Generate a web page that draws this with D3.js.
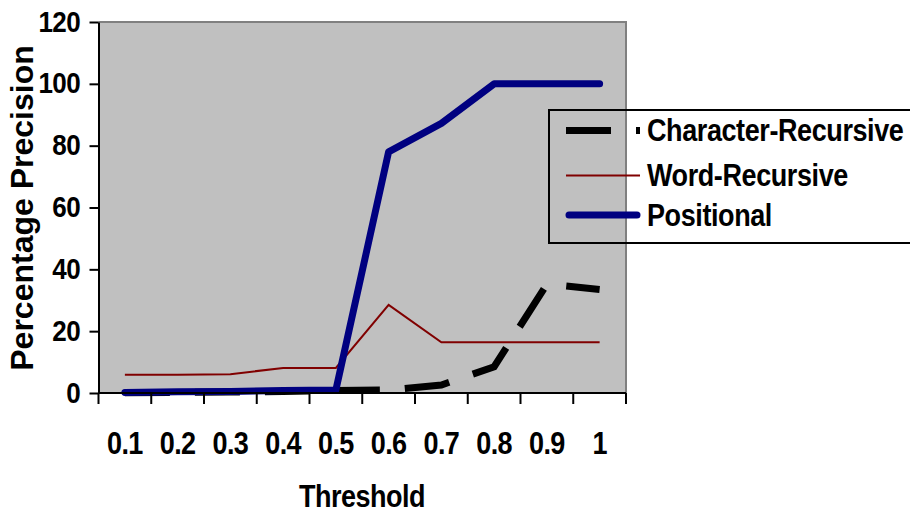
<!DOCTYPE html>
<html>
<head>
<meta charset="utf-8">
<script src="https://cdn.jsdelivr.net/npm/d3@7"></script>
<style>
  html, body { margin: 0; padding: 0; background: #fff; }
  svg { display: block; font-family: "Liberation Sans", Arial, sans-serif; font-weight: bold; }
</style>
</head>
<body>
<svg id="chart" width="910" height="516"></svg>
<script>
// Threshold categories and precision (%) per method
const thresholds = ["0.1", "0.2", "0.3", "0.4", "0.5", "0.6", "0.7", "0.8", "0.9", "1"];
const characterRecursive = [0.1, 0.2, 0.3, 0.5, 0.8, 1, 2.6, 8.5, 35.2, 33.5];
const wordRecursive = [5.9, 5.9, 6.1, 8.1, 8.1, 28.5, 16.4, 16.4, 16.4, 16.4];
const positional = [0.2, 0.4, 0.5, 0.8, 1, 78, 87.2, 100, 100, 100];
const yTicks = [0, 20, 40, 60, 80, 100, 120];

const seriesNames = ["Character-Recursive", "Word-Recursive", "Positional"];
const seriesValues = [characterRecursive, wordRecursive, positional];
const seriesStyles = [
  { color: "#000000", width: 7, dash: "45,25", cap: "butt" },
  { color: "#800000", width: 2, dash: null, cap: "butt" },
  { color: "#000080", width: 7, dash: null, cap: "round" }
];

const svg = d3.select("#chart");
const plot = { left: 98.5, right: 626, top: 22, bottom: 393 };
const stretch = 1.13; // text is drawn slightly taller than wide

const x = d3.scaleBand().domain(thresholds).range([plot.left, plot.right]);
const y = d3.scaleLinear().domain([0, 120]).range([plot.bottom, plot.top]);

// places a horizontal label with a vertical stretch about its baseline
function label(g, px, py, txt, size, anchor, spacing) {
  return g.append("text")
    .attr("transform", `translate(${px},${py}) scale(1,${stretch})`)
    .attr("text-anchor", anchor)
    .attr("font-size", size)
    .attr("letter-spacing", spacing)
    .attr("fill", "#000")
    .text(txt);
}

// plot background
svg.append("rect")
  .attr("x", plot.left).attr("y", plot.top)
  .attr("width", plot.right - plot.left).attr("height", plot.bottom - plot.top)
  .attr("fill", "#c0c0c0");

// top and right frame
svg.append("path")
  .attr("d", `M${plot.left},${plot.top}H${plot.right}V${plot.bottom}`)
  .attr("fill", "none").attr("stroke", "#808080").attr("stroke-width", 2);

// series lines
const line = d3.line()
  .x((d, i) => x(thresholds[i]) + x.bandwidth() / 2)
  .y(d => y(d));

seriesValues.forEach((vals, k) => {
  const s = seriesStyles[k];
  svg.append("path")
    .datum(vals)
    .attr("d", line)
    .attr("fill", "none")
    .attr("stroke", s.color)
    .attr("stroke-width", s.width)
    .attr("stroke-linecap", s.cap)
    .attr("stroke-linejoin", s.cap === "round" ? "round" : "miter")
    .attr("stroke-dasharray", s.dash);
});

// y axis
const yAxis = svg.append("g")
  .attr("transform", `translate(${plot.left},0)`)
  .call(d3.axisLeft(y).tickValues(yTicks).tickSize(9).tickSizeOuter(0).tickFormat(""));
yAxis.select(".domain").attr("stroke", "#000").attr("stroke-width", 2);
yAxis.selectAll(".tick line").attr("stroke", "#000").attr("stroke-width", 2);
const yLabels = svg.append("g");
yTicks.forEach(v => label(yLabels, 80, y(v) + 9.5, String(v), 26, "end", -0.6));

// x axis: ticks at category boundaries
const xAxis = svg.append("g")
  .attr("transform", `translate(0,${plot.bottom})`);
xAxis.append("line")
  .attr("x1", plot.left).attr("x2", plot.right)
  .attr("stroke", "#000").attr("stroke-width", 2);
const boundaries = thresholds.map(t => x(t)).concat([x(thresholds[thresholds.length - 1]) + x.bandwidth()]);
xAxis.selectAll("line.tick").data(boundaries).enter().append("line")
  .attr("class", "tick")
  .attr("x1", d => d).attr("x2", d => d)
  .attr("y1", 0).attr("y2", 11)
  .attr("stroke", "#000").attr("stroke-width", 2);
thresholds.forEach(t => label(xAxis, x(t) + x.bandwidth() / 2, 61, t, 27, "middle", -0.6));

// axis titles
label(svg, 362, 507, "Threshold", 27, "middle", -0.5);

svg.append("text")
  .attr("transform", "translate(33,208) rotate(-90)")
  .attr("text-anchor", "middle")
  .attr("font-size", 32).attr("letter-spacing", 0)
  .text("Percentage Precision");

// legend
const legend = svg.append("g");
legend.append("rect")
  .attr("x", 549).attr("y", 110)
  .attr("width", 362).attr("height", 133)
  .attr("fill", "none").attr("stroke", "#000").attr("stroke-width", 2);

const rowY = [130.5, 175.5, 215];
seriesNames.forEach((name, k) => {
  const s = seriesStyles[k];
  legend.append("line")
    .attr("x1", s.cap === "round" ? 569 : 566).attr("x2", s.cap === "round" ? 637 : 640)
    .attr("y1", rowY[k]).attr("y2", rowY[k])
    .attr("stroke", s.color).attr("stroke-width", s.width)
    .attr("stroke-linecap", s.cap)
    .attr("stroke-dasharray", s.dash);
  label(legend, 647, rowY[k] + 10.5, name, 27, "start", -0.4);
});
</script>
</body>
</html>
